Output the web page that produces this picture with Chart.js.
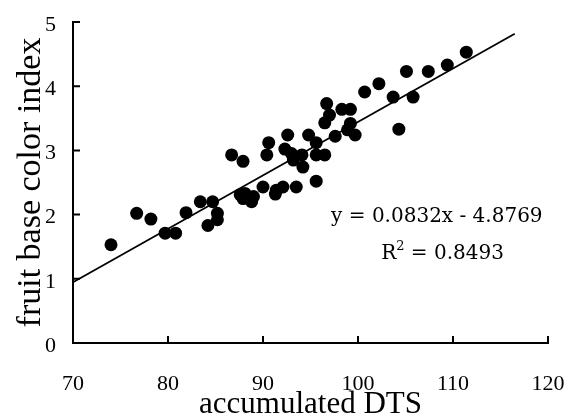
<!DOCTYPE html>
<html>
<head>
<meta charset="utf-8">
<script src="https://cdn.jsdelivr.net/npm/chart.js@4"></script>
<style>
  html, body { margin: 0; padding: 0; background: #fff; }
  #wrap { width: 566px; height: 420px; }
</style>
</head>
<body>
<div id="wrap"><canvas id="scatterCanvas" width="566" height="420"></canvas></div>
<script>
// accumulated DTS vs fruit base color index, one point per sample
const dtsValues = [
  74.0, 76.7, 78.2, 79.7, 80.8, 81.9, 83.4, 84.7, 84.2, 85.2,
  85.2, 86.7, 87.9, 87.6, 87.9, 88.1, 88.8, 89.0, 90.0, 91.3,
  91.4, 92.1, 93.5, 95.6, 90.4, 90.6, 92.3, 92.6, 93.0, 93.2,
  94.2, 94.8, 94.1, 95.6, 95.6, 96.5, 96.5, 97.0, 96.7, 97.6,
  98.3, 99.2, 99.2, 98.9, 99.7, 100.7, 102.2, 103.7, 104.3, 105.8,
  105.1, 107.4, 109.4, 111.4
];
const colorIndex = [
  1.53, 2.02, 1.93, 1.71, 1.71, 2.03, 2.20, 2.20, 1.83, 2.02,
  1.92, 2.93, 2.83, 2.31, 2.25, 2.33, 2.20, 2.28, 2.43, 2.32,
  2.38, 2.43, 2.43, 2.52, 2.93, 3.12, 3.02, 3.24, 2.95, 2.85,
  2.74, 3.24, 2.93, 3.12, 2.93, 2.93, 3.43, 3.55, 3.73, 3.22,
  3.64, 3.64, 3.42, 3.32, 3.24, 3.91, 4.04, 3.83, 3.33, 3.83,
  4.23, 4.23, 4.33, 4.53
];

const xTicks = [70, 80, 90, 100, 110, 120];
const yTicks = [0, 1, 2, 3, 4, 5];

// linear fit
const slope = 0.0832;
const intercept = -4.8769;
const rSquared = 0.8493;
const fitFrom = 70;
const fitTo = 116.5;

const points = dtsValues.map((x, i) => ({ x, y: colorIndex[i] }));
const fitLine = [fitFrom, fitTo].map(x => ({ x, y: slope * x + intercept }));

// short tick marks pointing into the plot area
const innerTicks = {
  id: 'innerTicks',
  afterDraw(chart) {
    const { ctx, chartArea, scales: { x, y } } = chart;
    ctx.save();
    ctx.strokeStyle = '#000';
    ctx.lineWidth = 2;
    ctx.beginPath();
    xTicks.forEach(v => {
      const px = x.getPixelForValue(v);
      ctx.moveTo(px, chartArea.bottom);
      ctx.lineTo(px, chartArea.bottom - 7);
    });
    yTicks.forEach(v => {
      const py = y.getPixelForValue(v);
      ctx.moveTo(chartArea.left, py);
      ctx.lineTo(chartArea.left + 7, py);
    });
    ctx.stroke();
    ctx.restore();
  }
};

// regression equation and R² next to the line
const fitLabel = {
  id: 'fitLabel',
  afterDraw(chart) {
    const { ctx, scales: { x, y } } = chart;
    ctx.save();
    ctx.fillStyle = '#000';
    ctx.textBaseline = 'middle';
    ctx.font = '20px "DejaVu Serif"';
    ctx.textAlign = 'center';
    const eq = 'y = ' + slope + 'x - ' + Math.abs(intercept);
    ctx.fillText(eq, x.getPixelForValue(108.3), y.getPixelForValue(1.96));

    const rest = ' = ' + rSquared;
    ctx.textAlign = 'left';
    const wR = ctx.measureText('R').width;
    const wRest = ctx.measureText(rest).width;
    ctx.font = '13px "DejaVu Serif"';
    const w2 = ctx.measureText('2').width;
    const total = wR + w2 + wRest;
    let px = x.getPixelForValue(108.9) - total / 2;
    const py = y.getPixelForValue(1.39);
    ctx.font = '20px "DejaVu Serif"';
    ctx.fillText('R', px, py);
    px += wR;
    ctx.font = '13px "DejaVu Serif"';
    ctx.fillText('2', px, py - 7);
    px += w2;
    ctx.font = '20px "DejaVu Serif"';
    ctx.fillText(rest, px, py);
    ctx.restore();
  }
};

new Chart(document.getElementById('scatterCanvas'), {
  type: 'scatter',
  data: {
    datasets: [
      {
        data: points,
        pointRadius: 6.5,
        pointHoverRadius: 6.5,
        pointBackgroundColor: '#000',
        pointBorderWidth: 0,
        borderWidth: 0
      },
      {
        type: 'line',
        data: fitLine,
        borderColor: '#000',
        borderWidth: 1.8,
        pointRadius: 0,
        fill: false
      }
    ]
  },
  plugins: [innerTicks, fitLabel],
  options: {
    responsive: false,
    animation: false,
    layout: { autoPadding: false, padding: { top: 22, right: 18, left: 0, bottom: 0 } },
    plugins: {
      legend: { display: false },
      tooltip: { enabled: false }
    },
    scales: {
      x: {
        type: 'linear',
        min: 70,
        max: 120,
        afterBuildTicks: s => { s.ticks = xTicks.map(v => ({ value: v })); },
        afterFit: s => {
          s.height = 77;
          s.paddingLeft = 0;
          s.paddingRight = 0;
        },
        grid: { display: false, drawTicks: false },
        border: { display: true, color: '#000', width: 2 },
        ticks: {
          padding: 28,
          color: '#000',
          font: { family: 'Liberation Serif', size: 22 }
        },
        title: {
          display: true,
          text: 'accumulated DTS',
          color: '#000',
          font: { family: 'Liberation Serif', size: 31, lineHeight: 1 },
          padding: { top: 0, bottom: 0 }
        }
      },
      y: {
        type: 'linear',
        min: 0,
        max: 5,
        afterBuildTicks: s => { s.ticks = yTicks.map(v => ({ value: v })); },
        afterFit: s => {
          s.width = 73;
          s.paddingTop = 0;
          s.paddingBottom = 0;
        },
        grid: { display: false, drawTicks: false },
        border: { display: true, color: '#000', width: 2 },
        ticks: {
          padding: 17,
          labelOffset: 3,
          color: '#000',
          font: { family: 'Liberation Serif', size: 22 }
        },
        title: {
          display: true,
          text: 'fruit base color index',
          color: '#000',
          font: { family: 'Liberation Serif', size: 34, lineHeight: 1 },
          padding: { top: 14, bottom: 0 }
        }
      }
    }
  }
});
</script>
</body>
</html>
